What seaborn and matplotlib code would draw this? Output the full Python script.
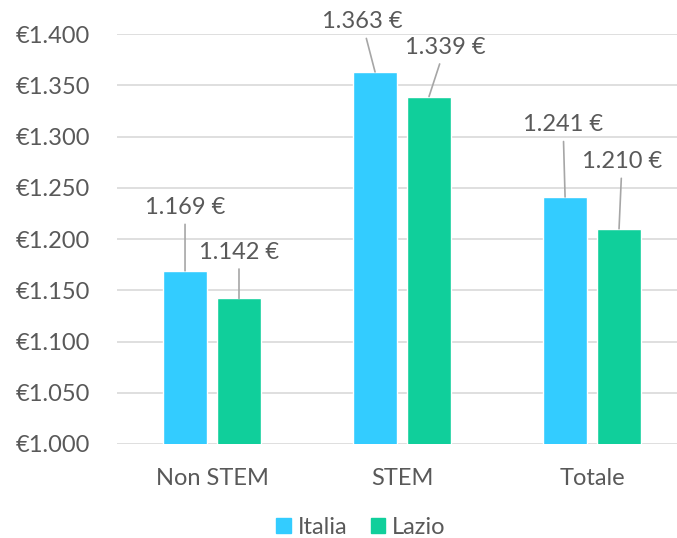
#!/usr/bin/env python3

import pandas as pd
import seaborn as sns
from matplotlib import pyplot as plt
from matplotlib.ticker import FuncFormatter

categories = ["Non STEM", "STEM", "Totale"]
series = ["Italia", "Lazio"]
italia = [1169, 1363, 1241]
lazio = [1142, 1339, 1210]
colors = ["#33CCFF", "#10CF9B"]

# label offsets (pixels) from bar top, per series / category
label_dx = [[0, -13, -2], [0, 16, 3]]
label_dy = [[63, 50, 72], [46, 49, 67]]


def euro(v, _pos=None):
    return "€" + f"{v:,.0f}".replace(",", ".")


def main():
    sns.set_theme(style="white")
    plt.rcParams["font.family"] = ["Lato", "DejaVu Sans"]
    text_color = "#595959"
    fs = 17

    df = pd.DataFrame({
        "Categoria": categories * 2,
        "Serie": [series[0]] * 3 + [series[1]] * 3,
        "Valore": italia + lazio,
    })

    fig = plt.figure(figsize=(6.77, 5.38), dpi=100)
    ax = fig.add_axes([117 / 677, 1 - 444 / 538, 560 / 677, 410 / 538])
    sns.barplot(df, x="Categoria", y="Valore", hue="Serie", palette=colors,
                width=0.568, gap=0.2, ax=ax, saturation=1, legend=False)

    ax.set_ylim(1000, 1400)
    ax.set_xlim(-0.5, 2.447)
    ax.set_yticks(range(1000, 1401, 50))
    ax.yaxis.set_major_formatter(FuncFormatter(euro))
    ax.grid(axis="y", color="#D9D9D9", linewidth=1.2)
    ax.set_axisbelow(True)
    for s in ax.spines.values():
        s.set_visible(False)
    ax.set_xlabel("")
    ax.set_ylabel("")
    ax.tick_params(axis="both", length=0, labelsize=fs, labelcolor=text_color)
    ax.tick_params(axis="y", pad=19.5)
    ax.tick_params(axis="x", pad=17)

    for i, cont in enumerate(ax.containers):
        vals = [italia, lazio][i]
        for j, bar in enumerate(cont):
            x = bar.get_x() + bar.get_width() / 2
            ax.annotate(f"{vals[j]:,} €".replace(",", "."), xy=(x, vals[j]),
                        xytext=(label_dx[i][j], label_dy[i][j]), textcoords="offset pixels",
                        ha="center", va="center", fontsize=fs, color=text_color,
                        arrowprops=dict(arrowstyle="-", color="#A6A6A6", lw=1.2,
                                        shrinkA=2, shrinkB=0))

    handles = [plt.Rectangle((0, 0), 1, 1, color=c) for c in colors]
    leg = fig.legend(handles, series, loc="center", bbox_to_anchor=(361 / 677, 1 - 527 / 538),
                     ncol=2, frameon=False, fontsize=fs, handlelength=0.6, handleheight=0.6,
                     handletextpad=0.3, columnspacing=1.0)
    for t in leg.get_texts():
        t.set_color(text_color)

    fig.savefig("out.png", dpi=100)
    plt.close(fig)


if __name__ == '__main__':
    main()
